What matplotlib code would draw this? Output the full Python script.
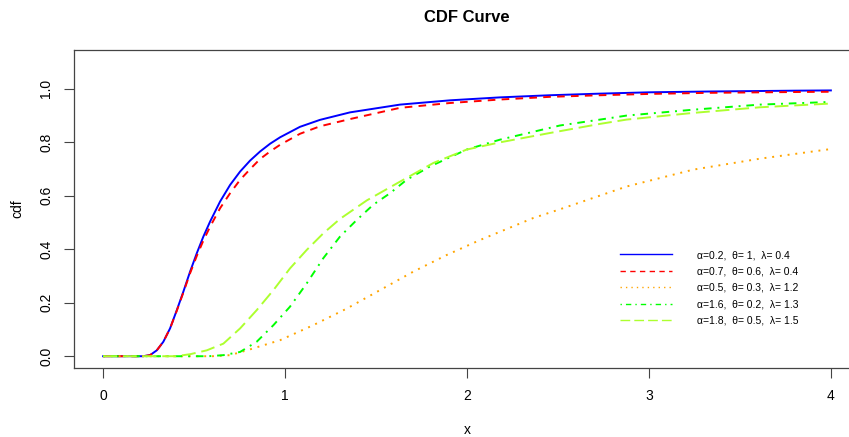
import numpy as np
import matplotlib
matplotlib.use("Agg")
import matplotlib.pyplot as plt
from matplotlib.lines import Line2D

plt.rcParams["font.family"] = ["Liberation Sans", "DejaVu Sans"]
plt.rcParams["lines.scale_dashes"] = False

# curves
x_blue = [0, 0.22, 0.258, 0.295, 0.331, 0.368, 0.405, 0.441, 0.478, 0.515, 0.551, 0.588,
          0.643, 0.698, 0.753, 0.808, 0.863, 0.918, 0.973, 1.082, 1.192, 1.357, 1.632,
          1.907, 2.181, 2.456, 2.731, 3.005, 3.335, 3.793, 4.0]
y_blue = [0, 0, 0.004, 0.022, 0.054, 0.104, 0.172, 0.241, 0.316, 0.385, 0.447, 0.503,
          0.578, 0.640, 0.690, 0.731, 0.765, 0.794, 0.818, 0.857, 0.883, 0.911, 0.940,
          0.956, 0.967, 0.975, 0.981, 0.986, 0.989, 0.992, 0.993]
y_red = [0, 0, 0.004, 0.022, 0.054, 0.104, 0.170, 0.238, 0.310, 0.375, 0.432, 0.484,
         0.553, 0.609, 0.659, 0.699, 0.737, 0.765, 0.790, 0.831, 0.859, 0.886, 0.928,
         0.946, 0.959, 0.969, 0.975, 0.980, 0.984, 0.987, 0.988]

x_orange = [0, 0.60, 0.698, 0.790, 0.973, 1.155, 1.339, 1.522, 1.705, 1.888, 2.071,
            2.363, 2.511, 2.877, 3.243, 3.610, 4.0]
y_orange = [0, 0, 0.004, 0.022, 0.060, 0.116, 0.178, 0.247, 0.316, 0.378, 0.434,
            0.516, 0.549, 0.634, 0.697, 0.738, 0.774]

x_green = [0, 0.58, 0.661, 0.753, 0.844, 0.936, 1.027, 1.119, 1.210, 1.302, 1.394,
           1.485, 1.577, 1.668, 1.797, 1.998, 2.181, 2.511, 2.731, 2.877, 3.243, 3.610, 4.0]
y_green = [0, 0, 0.004, 0.016, 0.054, 0.116, 0.185, 0.272, 0.366, 0.447, 0.509,
           0.566, 0.609, 0.659, 0.709, 0.772, 0.809, 0.862, 0.884, 0.899, 0.921, 0.940, 0.950]

x_yg = [0, 0.40, 0.478, 0.570, 0.661, 0.753, 0.844, 0.936, 1.027, 1.119, 1.210, 1.302,
        1.449, 1.613, 1.815, 1.998, 2.181, 2.456, 2.731, 2.877, 3.243, 3.610, 4.0]
y_yg = [0, 0, 0.0075, 0.022, 0.047, 0.104, 0.172, 0.247, 0.328, 0.397, 0.459, 0.513,
        0.582, 0.645, 0.722, 0.772, 0.799, 0.834, 0.868, 0.884, 0.909, 0.930, 0.944]

labels = ["\u03b1=0.2,  \u03b8= 1,  \u03bb= 0.4",
          "\u03b1=0.7,  \u03b8= 0.6,  \u03bb= 0.4",
          "\u03b1=0.5,  \u03b8= 0.3,  \u03bb= 1.2",
          "\u03b1=1.6,  \u03b8= 0.2,  \u03bb= 1.3",
          "\u03b1=1.8,  \u03b8= 0.5,  \u03bb= 1.5"]
colors = ["#0000FF", "#FF0000", "#FFA500", "#00FF00", "#ADFF2F"]
dashes = [None, (5.5, 4.5), (1.4, 4.2), (1.4, 4.2, 5.5, 4.2), (10, 4.2)]

series = [(x_blue, y_blue), (x_blue, y_red), (x_orange, y_orange),
          (x_green, y_green), (x_yg, y_yg)]

fig = plt.figure(figsize=(8.49, 4.37), dpi=100)
ax = fig.add_axes([74 / 849, 69 / 437, 786 / 849, 318 / 437])

for (xs, ys), c, d in zip(series, colors, dashes):
    line, = ax.plot(xs, ys, color=c, lw=1.4)
    if d is not None:
        line.set_dashes(d)

ax.set_xlim(-0.16, 4.16)
ax.set_ylim(-0.044, 1.144)
ax.set_xticks([0, 1, 2, 3, 4])
ax.set_yticks([0, 0.2, 0.4, 0.6, 0.8, 1.0])
ax.set_yticklabels(["0.0", "0.2", "0.4", "0.6", "0.8", "1.0"], rotation=90, va="center")
ax.tick_params(direction="out", length=7, width=0.8, color="#444444", labelsize=10, pad=8)
for s in ax.spines.values():
    s.set_color("#444444")
    s.set_linewidth(0.9)

fig.text(467 / 849, 1 - 430 / 437, "x", ha="center", va="center", fontsize=10)
fig.text(17 / 849, 1 - 209 / 437, "cdf", ha="center", va="center", fontsize=10,
         rotation=90)
fig.text(467 / 849, 1 - 18 / 437, "CDF Curve", ha="center", va="center",
         fontsize=12, fontweight="bold")

handles = []
for c, d in zip(colors, dashes):
    h = Line2D([0], [0], color=c, lw=1)
    if d is not None:
        h.set_dashes(tuple(v * 0.7 for v in d))
    handles.append(h)
fig.legend(handles, labels, loc="upper left", bbox_to_anchor=(620 / 849, 1 - 250 / 437),
           frameon=False, fontsize=7.5, handlelength=5.0, handletextpad=2.4,
           labelspacing=0.62, borderpad=0, borderaxespad=0)

fig.savefig("out.png", dpi=100)
